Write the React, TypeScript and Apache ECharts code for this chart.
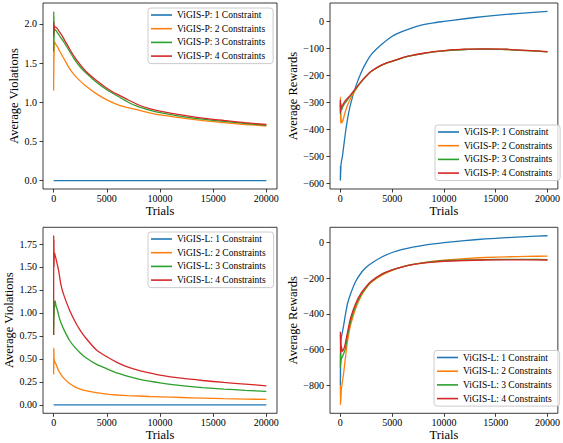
import React, { useEffect, useRef } from "react";
import * as echarts from "echarts";

// Trials (x values shared by all series)
const trials = [0, 10, 20, 30, 40, 60, 80, 100, 150, 200, 300, 400, 500, 700, 1000, 1500, 2000, 2500, 3000, 4000, 5000, 6000, 7000, 8000, 9000, 10000, 12000, 14000, 16000, 18000, 20000];

// Panel 1: ViGIS-P, Average Violations
const p1c1 = trials.map(() => 0);
const p1c2 = [1.15, 1.80, 1.35, 1.75, 1.55, 1.78, 1.74, 1.77, 1.75, 1.74, 1.72, 1.70, 1.67, 1.62, 1.55, 1.43, 1.34, 1.27, 1.21, 1.11, 1.03, 0.97, 0.93, 0.90, 0.865, 0.838, 0.80, 0.765, 0.74, 0.716, 0.697];
const p1c3 = [1.65, 2.16, 1.70, 2.10, 1.80, 1.95, 1.92, 1.93, 1.93, 1.92, 1.90, 1.88, 1.86, 1.82, 1.76, 1.65, 1.54, 1.45, 1.38, 1.26, 1.16, 1.08, 1.00, 0.94, 0.90, 0.868, 0.82, 0.785, 0.755, 0.73, 0.707];
const p1c4 = [1.85, 2.03, 1.90, 2.00, 1.92, 1.98, 1.95, 1.97, 1.96, 1.96, 1.95, 1.93, 1.91, 1.87, 1.80, 1.68, 1.57, 1.48, 1.40, 1.28, 1.18, 1.10, 1.03, 0.965, 0.92, 0.888, 0.838, 0.798, 0.768, 0.74, 0.716];

// Panel 2: ViGIS-P, Average Rewards
const p2c1 = [-590, -535, -580, -540, -560, -525, -530, -520, -510, -500, -470, -440, -410, -360, -305, -240, -190, -152, -122, -85, -55, -37, -23, -12, -5, 0, 10, 19, 26, 32, 37];
const p2c2 = [-330, -280, -370, -300, -378, -340, -365, -370, -375, -372, -360, -345, -332, -310, -285, -252, -225, -203, -185, -162, -148, -135, -126, -119, -113, -109, -104, -103, -104, -108, -113];
const p2c3 = [-300, -345, -310, -335, -320, -330, -325, -328, -325, -320, -312, -305, -300, -290, -275, -249, -224, -203, -185, -162, -148, -135, -126, -119, -113, -109, -104, -103, -104, -108, -113];
const p2c4 = [-290, -340, -300, -335, -305, -320, -315, -318, -315, -312, -305, -298, -293, -285, -272, -247, -223, -202, -184, -161, -147, -134, -125, -118, -112, -108, -103, -102, -103, -107, -112];

// Panel 3: ViGIS-L, Average Violations
const p3c1 = trials.map(() => 0);
const p3c2 = [0.33, 0.62, 0.40, 0.60, 0.44, 0.50, 0.48, 0.47, 0.46, 0.45, 0.42, 0.39, 0.365, 0.33, 0.285, 0.232, 0.195, 0.172, 0.155, 0.133, 0.117, 0.107, 0.10, 0.096, 0.091, 0.087, 0.080, 0.073, 0.067, 0.063, 0.059];
const p3c3 = [0.76, 1.10, 0.85, 1.13, 0.95, 1.08, 1.05, 1.10, 1.13, 1.09, 1.05, 1.01, 0.96, 0.89, 0.81, 0.70, 0.625, 0.565, 0.515, 0.443, 0.392, 0.345, 0.31, 0.28, 0.258, 0.24, 0.21, 0.188, 0.172, 0.158, 0.146];
const p3c4 = [0.76, 1.84, 1.55, 1.80, 1.50, 1.66, 1.62, 1.65, 1.62, 1.60, 1.55, 1.50, 1.44, 1.30, 1.18, 1.03, 0.91, 0.81, 0.73, 0.60, 0.523, 0.46, 0.41, 0.375, 0.348, 0.324, 0.29, 0.265, 0.244, 0.225, 0.207];

// Panel 4: ViGIS-L, Average Rewards
const p4c1 = [-800, -620, -760, -560, -650, -560, -540, -530, -515, -500, -470, -435, -400, -340, -285, -215, -170, -138, -115, -80, -55, -38, -25, -15, -7, 0, 12, 21, 28, 34, 39];
const p4c2 = [-800, -910, -820, -900, -850, -880, -840, -820, -800, -780, -740, -690, -640, -550, -460, -365, -300, -255, -222, -182, -155, -136, -122, -112, -104, -98, -89, -83, -79, -77, -75];
const p4c3 = [-700, -620, -690, -640, -680, -650, -660, -650, -645, -640, -625, -610, -590, -520, -440, -350, -292, -250, -218, -178, -152, -135, -122, -113, -106, -101, -97, -95, -94, -94, -95];
const p4c4 = [-500, -620, -530, -600, -560, -610, -590, -580, -600, -610, -600, -585, -560, -500, -420, -338, -283, -245, -215, -176, -152, -135, -123, -115, -109, -104, -100, -97, -96, -96, -97];

const namesP = ["ViGIS-P: 1 Constraint", "ViGIS-P: 2 Constraints", "ViGIS-P: 3 Constraints", "ViGIS-P: 4 Constraints"];
const namesL = ["ViGIS-L: 1 Constraint", "ViGIS-L: 2 Constraints", "ViGIS-L: 3 Constraints", "ViGIS-L: 4 Constraints"];

const xTicks = [0, 5000, 10000, 15000, 20000];
const yTicks1 = [0, 0.5, 1.0, 1.5, 2.0];
const yTicks2 = [-600, -500, -400, -300, -200, -100, 0];
const yTicks3 = [0, 0.25, 0.5, 0.75, 1.0, 1.25, 1.5, 1.75];
const yTicks4 = [-800, -600, -400, -200, 0];

const colors = ["#1f77b4", "#ff7f0e", "#2ca02c", "#d62728"];
const FONT = "'Liberation Serif', 'Times New Roman', serif";

export default function App() {
  const ref = useRef<HTMLDivElement>(null);
  useEffect(() => {
    if (!ref.current) return;
    const chart = echarts.init(ref.current, undefined, { renderer: "svg" });

    const grids = [
      { left: 43, top: 3, width: 234, height: 186 },
      { left: 330, top: 3, width: 234, height: 186 },
      { left: 43, top: 227.3, width: 234, height: 186 },
      { left: 330, top: 227.3, width: 234, height: 186 },
    ].map((g) => ({ ...g, show: true, borderColor: "#262626", borderWidth: 0.9, backgroundColor: "transparent" }));

    const minus = (s: string) => s.replace("-", "\u2212");
    const yConf = [
      { min: -0.108, max: 2.268, ticks: yTicks1, fmt: (v: number) => minus(v.toFixed(1)), name: "Average Violations", gap: 21 },
      { min: -621.35, max: 68.35, ticks: yTicks2, fmt: (v: number) => minus(v.toFixed(0)), name: "Average Rewards", gap: 31 },
      { min: -0.092, max: 1.932, ticks: yTicks3, fmt: (v: number) => minus(v.toFixed(2)), name: "Average Violations", gap: 25 },
      { min: -957.45, max: 86.45, ticks: yTicks4, fmt: (v: number) => minus(v.toFixed(0)), name: "Average Rewards", gap: 29 },
    ];

    const tickStyle = { show: true, inside: false, length: 3.5, lineStyle: { color: "#262626", width: 0.9 } };
    const labelStyle = { fontFamily: FONT, fontSize: 10, color: "#000" };
    const nameStyle = { fontFamily: FONT, fontSize: 12.5, color: "#000" };

    const xAxis = [0, 1, 2, 3].map((i) => ({
      type: "value",
      gridIndex: i,
      position: "bottom",
      min: -1000,
      max: 21000,
      axisLine: { show: false, onZero: false },
      splitLine: { show: false },
      axisTick: { ...tickStyle, customValues: xTicks },
      axisLabel: { ...labelStyle, margin: 4, customValues: xTicks, formatter: (v: number) => String(v) },
      name: "Trials",
      nameLocation: "middle",
      nameGap: 15,
      nameTextStyle: nameStyle,
    }));

    const yAxis = yConf.map((c, i) => ({
      type: "value",
      gridIndex: i,
      position: "left",
      min: c.min,
      max: c.max,
      axisLine: { show: false, onZero: false },
      splitLine: { show: false },
      axisTick: { ...tickStyle, customValues: c.ticks },
      axisLabel: { ...labelStyle, margin: 6, customValues: c.ticks, formatter: c.fmt },
      name: c.name,
      nameLocation: "middle",
      nameGap: c.gap,
      nameTextStyle: nameStyle,
    }));

    const panels = [
      { names: namesP, data: [p1c1, p1c2, p1c3, p1c4] },
      { names: namesP, data: [p2c1, p2c2, p2c3, p2c4] },
      { names: namesL, data: [p3c1, p3c2, p3c3, p3c4] },
      { names: namesL, data: [p4c1, p4c2, p4c3, p4c4] },
    ];

    const series: any[] = [];
    panels.forEach((p, pi) => {
      p.data.forEach((vals, si) => {
        series.push({
          type: "line",
          name: p.names[si],
          xAxisIndex: pi,
          yAxisIndex: pi,
          data: trials.map((t, k) => [t, vals[k]]),
          showSymbol: false,
          symbol: "none",
          smooth: 0.2,
          color: colors[si],
          lineStyle: { width: 1.3, color: colors[si] },
          silent: true,
        });
      });
    });

    const legendPos = [
      { left: 148, top: 8, names: namesP },
      { left: 435, top: 125, names: namesP },
      { left: 148, top: 232, names: namesL },
      { left: 434, top: 350.5, names: namesL },
    ];
    const legend = legendPos.map((l) => ({
      left: l.left,
      top: l.top,
      orient: "vertical",
      data: l.names.map((n) => ({ name: n, icon: "rect" })),
      itemWidth: 21,
      itemHeight: 1.6,
      itemGap: 3.7,
      padding: [2, 8, 2.5, 3],
      backgroundColor: "rgba(255,255,255,0.8)",
      borderColor: "#cccccc",
      borderWidth: 1,
      borderRadius: 3,
      selectedMode: false,
      textStyle: { fontFamily: FONT, fontSize: 9.5, color: "#000", lineHeight: 10 },
    }));

    chart.setOption({
      animation: false,
      backgroundColor: "#fff",
      textStyle: { fontFamily: FONT },
      grid: grids,
      xAxis,
      yAxis,
      legend,
      series,
    } as any);

    return () => chart.dispose();
  }, []);

  return <div ref={ref} style={{ position: "fixed", left: 0, top: 0, width: 563, height: 443, background: "#fff" }} />;
}
